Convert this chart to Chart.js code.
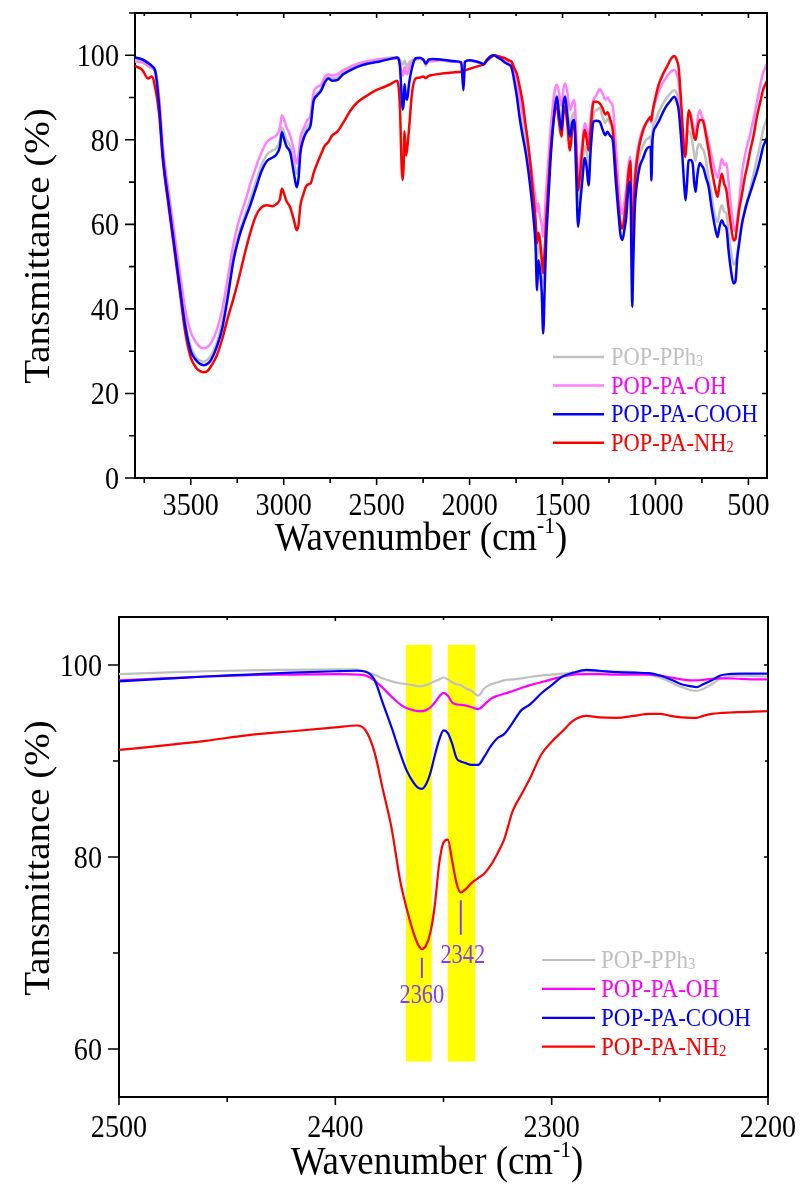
<!DOCTYPE html>
<html>
<head>
<meta charset="utf-8">
<script src="https://cdn.jsdelivr.net/npm/chart.js@4.4.1/dist/chart.umd.min.js"></script>
<style>
  html, body { margin: 0; padding: 0; background: #fff; }
  #wrap { position: relative; width: 802px; height: 1193px; }
  canvas { position: absolute; left: 0; }
  #ftir { top: 0; }
  #co2 { top: 590px; }
</style>
</head>
<body>
<div id="wrap">
  <canvas id="ftir" width="802" height="590"></canvas>
  <canvas id="co2" width="802" height="603"></canvas>
</div>
<script>
const sampleNames = ['POP-PPh3', 'POP-PA-OH', 'POP-PA-COOH', 'POP-PA-NH2'];

// full FT-IR spectra, 3800-400 cm-1
const wnFull = [
  3800, 3760, 3730, 3710, 3690, 3670, 3650, 3620, 3590, 3560,
  3530, 3500, 3470, 3450, 3430, 3410, 3390, 3360, 3330, 3300,
  3270, 3240, 3210, 3180, 3150, 3120, 3090, 3060, 3040, 3020,
  3010, 3000, 2985, 2965, 2945, 2930, 2920, 2910, 2895, 2875,
  2855, 2840, 2820, 2800, 2780, 2760, 2740, 2710, 2680, 2640,
  2600, 2550, 2500, 2460, 2420, 2390, 2375, 2365, 2360, 2355,
  2350, 2342, 2336, 2325, 2310, 2290, 2270, 2250, 2235, 2220,
  2200, 2160, 2120, 2080, 2045, 2033, 2025, 2000, 1970, 1940,
  1925, 1905, 1885, 1870, 1850, 1830, 1810, 1790, 1775, 1760,
  1745, 1730, 1715, 1700, 1685, 1670, 1655, 1645, 1637, 1630,
  1622, 1612, 1604, 1596, 1588, 1578, 1565, 1550, 1538, 1530,
  1520, 1505, 1495, 1486, 1475, 1460, 1448, 1437, 1428, 1416,
  1405, 1395, 1380, 1370, 1360, 1348, 1333, 1318, 1300, 1285,
  1270, 1258, 1245, 1230, 1215, 1200, 1188, 1178, 1168, 1157,
  1145, 1135, 1130, 1125, 1120, 1112, 1100, 1085, 1068, 1050,
  1035, 1026, 1022, 1016, 1000, 983, 960, 938, 920, 899,
  885, 875, 865, 855, 845, 838, 830, 822, 812, 800,
  792, 784, 775, 762, 750, 741, 728, 714, 700, 687,
  676, 666, 655, 643, 630, 618, 607, 595, 580, 570,
  560, 548, 535, 520, 505, 490, 472, 454, 436, 420,
  410, 400
];
const pph3Full = [
  99.0, 98.8, 98.0, 97.2, 96.0, 89.0, 77.0, 66.0, 56.0, 46.0,
  37.0, 31.0, 28.5, 27.8, 27.5, 28.0, 29.0, 32.0, 37.0, 44.0,
  52.5, 58.0, 62.0, 66.0, 70.0, 74.0, 76.5, 77.5, 78.0, 80.0,
  83.0, 82.0, 80.0, 78.5, 75.0, 72.0, 74.0, 78.5, 81.0, 83.0,
  84.5, 89.5, 91.0, 92.0, 94.0, 95.0, 94.5, 94.8, 96.0, 97.0,
  97.8, 98.5, 99.0, 99.3, 99.5, 99.5, 99.0, 98.0, 97.8, 98.0,
  98.7, 98.0, 96.9, 98.3, 98.8, 99.2, 99.3, 99.0, 97.5, 98.9,
  99.0, 99.0, 98.8, 98.6, 98.4, 95.0, 98.5, 98.8, 98.6, 98.2,
  98.0, 99.0, 99.6, 100.0, 99.7, 99.2, 98.8, 98.2, 97.0, 95.0,
  91.0, 86.0, 83.0, 80.0, 75.5, 70.0, 64.0, 59.0, 52.0, 55.0,
  54.0, 50.0, 46.0, 52.0, 60.0, 68.0, 77.0, 85.0, 89.5, 90.5,
  88.0, 84.0, 89.0, 90.5, 88.0, 83.0, 85.5, 86.5, 80.0, 65.0,
  70.0, 73.5, 78.5, 77.0, 73.0, 80.0, 86.0, 87.0, 87.5, 85.5,
  84.0, 85.0, 84.0, 83.0, 75.0, 66.0, 60.5, 59.4, 61.5, 65.0,
  70.5, 72.0, 62.0, 45.0, 55.0, 66.0, 72.0, 76.5, 78.5, 80.0,
  80.5, 80.8, 75.0, 82.0, 84.5, 86.5, 88.5, 90.0, 91.0, 91.7,
  91.0, 89.0, 85.0, 80.0, 77.5, 78.0, 81.0, 82.0, 81.5, 79.0,
  76.5, 75.0, 78.0, 79.0, 78.0, 77.5, 75.0, 71.0, 67.5, 63.5,
  61.5, 60.5, 63.0, 64.5, 63.0, 62.5, 58.0, 54.0, 50.5, 51.0,
  53.0, 57.0, 60.5, 63.5, 66.0, 68.5, 72.0, 75.5, 79.0, 82.5,
  84.0, 85.0
];
const ohFull = [
  98.5, 98.3, 97.5, 97.0, 96.2, 90.0, 78.5, 68.0, 58.5, 49.0,
  40.0, 34.5, 32.0, 31.0, 30.7, 31.0, 32.0, 35.0, 40.0, 47.5,
  55.5, 61.0, 65.0, 69.5, 73.5, 77.0, 79.5, 80.5, 81.0, 83.0,
  85.8, 85.0, 83.0, 81.0, 77.5, 74.4, 76.5, 80.5, 82.5, 84.5,
  86.0, 91.0, 92.5, 93.0, 94.8, 95.5, 95.2, 95.5, 96.5, 97.3,
  98.0, 98.6, 98.9, 99.1, 99.2, 99.2, 98.0, 95.8, 95.2, 95.8,
  97.2, 95.8, 95.5, 97.0, 98.3, 99.0, 99.1, 99.0, 98.3, 98.6,
  98.6, 98.8, 98.6, 98.5, 98.3, 97.0, 98.4, 98.7, 98.5, 98.2,
  98.0, 99.0, 99.6, 100.0, 99.8, 99.5, 99.2, 98.8, 98.5, 97.0,
  94.0, 90.0, 86.0, 83.0, 79.0, 74.0, 69.0, 66.0, 63.0, 65.0,
  62.0, 60.0, 57.0, 62.0, 68.0, 74.0, 82.0, 89.0, 92.5, 93.0,
  91.5, 88.0, 92.0, 93.3, 91.5, 87.0, 88.5, 89.5, 84.0, 70.0,
  75.0, 79.0, 84.0, 82.5, 80.0, 85.5, 89.5, 90.5, 92.0, 91.0,
  89.5, 90.0, 89.0, 88.0, 80.0, 70.0, 64.0, 62.5, 65.0, 68.5,
  74.0, 76.0, 68.0, 52.0, 62.0, 71.0, 76.5, 80.0, 82.5, 84.0,
  85.0, 85.5, 84.0, 86.5, 89.0, 91.5, 93.5, 95.0, 96.0, 96.5,
  95.5, 93.5, 88.0, 82.0, 77.5, 77.0, 83.0, 85.9, 85.5, 84.0,
  82.0, 81.0, 84.5, 87.0, 85.5, 84.7, 82.0, 79.5, 76.5, 74.0,
  72.0, 71.0, 73.0, 75.5, 74.0, 74.5, 70.0, 65.0, 59.5, 58.5,
  61.0, 66.0, 72.0, 76.0, 79.0, 81.5, 85.0, 89.0, 93.0, 96.0,
  97.0, 98.0
];
const coohFull = [
  99.5, 99.0, 98.2, 97.5, 96.0, 88.0, 76.0, 65.5, 55.5, 45.5,
  36.0, 30.0, 27.8, 27.0, 26.7, 27.0, 28.0, 31.0, 35.5, 43.0,
  51.5, 57.0, 61.0, 64.5, 68.5, 72.5, 75.0, 75.8, 76.5, 78.5,
  81.8, 80.5, 78.5, 77.0, 72.0, 68.8, 71.0, 77.0, 80.0, 82.0,
  83.5, 89.0, 90.5, 91.5, 93.5, 94.5, 94.0, 94.2, 95.5, 96.5,
  97.3, 98.0, 98.4, 98.8, 99.2, 99.5, 97.5, 90.0, 87.2, 88.5,
  93.2, 89.8, 89.5, 93.5, 97.0, 99.3, 99.4, 99.0, 98.0, 99.0,
  99.1, 99.0, 98.8, 98.6, 98.3, 91.7, 98.5, 98.8, 98.6, 98.2,
  97.9, 99.0, 99.8, 100.0, 99.5, 99.0, 98.3, 97.8, 97.2, 94.0,
  90.0, 85.0, 81.0, 77.5, 73.0, 67.5, 61.0, 55.0, 44.4, 51.5,
  49.5, 44.0, 34.2, 45.0, 56.0, 64.5, 75.0, 83.5, 88.6, 90.2,
  86.5, 82.3, 88.5, 90.2, 86.0, 80.7, 84.0, 84.7, 74.0, 59.4,
  65.0, 69.7, 75.7, 73.5, 69.2, 78.0, 84.3, 84.5, 84.3, 82.5,
  81.1, 81.9, 81.0, 79.9, 71.0, 63.0, 57.5, 56.3, 58.5, 61.8,
  68.9, 70.0, 55.0, 40.5, 50.0, 63.0, 69.5, 73.6, 75.5, 77.6,
  78.3, 78.3, 70.4, 80.0, 83.0, 84.3, 86.5, 88.2, 89.2, 90.2,
  89.0, 87.0, 82.0, 76.0, 69.0, 65.7, 70.0, 75.1, 75.2, 74.4,
  70.0, 67.7, 71.5, 74.5, 73.8, 73.2, 71.0, 68.9, 64.5, 61.0,
  58.5, 57.0, 59.5, 61.0, 59.8, 59.0, 53.9, 49.5, 46.0, 46.5,
  52.0, 56.0, 60.0, 63.0, 65.5, 67.5, 70.0, 72.5, 75.5, 78.5,
  79.5, 80.5
];
const nh2Full = [
  97.5, 96.5, 94.5, 95.0, 92.0, 86.0, 75.0, 64.5, 54.5, 44.5,
  34.5, 28.5, 26.0, 25.3, 25.0, 25.3, 26.5, 29.0, 33.0, 38.0,
  42.5, 47.5, 53.0, 58.0, 62.0, 64.0, 64.5, 64.3, 64.8, 66.0,
  68.5, 67.5, 65.5, 64.0, 61.0, 58.6, 60.0, 64.5, 67.0, 69.3,
  69.7, 72.0, 74.4, 76.5, 78.5, 79.5, 81.0, 82.0, 84.0, 87.0,
  89.0, 90.5, 91.8, 92.5, 93.3, 94.0, 88.0, 73.0, 70.5, 73.5,
  82.0, 76.3, 77.8, 83.0, 91.0, 94.5, 94.7, 95.0, 94.6, 95.1,
  95.3, 95.6, 95.8, 96.0, 96.1, 96.2, 96.4, 96.8, 97.2, 97.6,
  97.8, 98.8, 99.5, 100.0, 99.8, 99.6, 99.3, 98.8, 98.5, 97.0,
  95.5, 92.5, 89.0, 84.0, 79.0, 73.0, 66.0, 61.0, 55.5, 58.0,
  56.5, 52.0, 48.5, 54.0, 61.0, 68.0, 77.0, 84.0, 87.5, 87.8,
  84.5, 80.7, 86.0, 87.8, 84.0, 77.5, 82.0, 84.2, 79.0, 68.0,
  72.0, 77.0, 82.3, 80.0, 77.5, 83.0, 89.0, 89.0, 88.6, 87.5,
  86.0, 86.5, 85.0, 82.3, 74.0, 65.0, 60.0, 59.0, 61.5, 66.0,
  72.0, 75.0, 64.0, 48.4, 58.0, 69.0, 75.0, 79.0, 82.0, 84.0,
  85.0, 85.4, 84.5, 86.5, 90.0, 93.0, 95.5, 97.3, 98.9, 99.8,
  98.8, 97.0, 91.0, 84.0, 77.0, 76.0, 82.0, 87.0, 85.9, 82.5,
  80.7, 80.0, 82.5, 84.7, 84.7, 84.0, 81.0, 77.5, 73.5, 70.4,
  68.0, 66.5, 69.5, 72.0, 69.5, 68.0, 64.0, 60.0, 56.2, 56.5,
  60.0, 64.0, 67.0, 71.0, 74.0, 77.5, 81.0, 85.5, 89.0, 92.0,
  93.0, 94.0
];

// CO2 region, 2500-2200 cm-1
const wnCO2 = [
  2500, 2480, 2460, 2440, 2420, 2400, 2390, 2386, 2382, 2378,
  2374, 2370, 2367, 2364, 2362, 2360, 2358, 2356, 2354, 2352,
  2350, 2348, 2346, 2344, 2342, 2340, 2337, 2334, 2331, 2328,
  2325, 2322, 2318, 2314, 2310, 2305, 2300, 2295, 2290, 2284,
  2278, 2270, 2262, 2255, 2250, 2245, 2240, 2236, 2233, 2230,
  2226, 2222, 2218, 2212, 2206, 2200
];
const pph3CO2 = [
  99.05, 99.2, 99.35, 99.45, 99.5, 99.55, 99.55, 99.3, 99.0, 98.6,
  98.3, 98.1, 98.0, 97.9, 97.8, 97.8, 97.9, 98.1, 98.3, 98.5,
  98.7, 98.5, 98.2, 98.0, 97.9, 97.6, 97.3, 96.8, 97.6, 98.0,
  98.2, 98.4, 98.5, 98.6, 98.75, 98.9, 99.0, 99.1, 99.2, 99.35,
  99.3, 99.3, 99.25, 99.0, 98.7, 98.2, 97.7, 97.4, 97.3, 97.5,
  98.0, 98.6, 98.8, 98.9, 98.85, 98.8
];
const ohCO2 = [
  98.4, 98.6, 98.8, 98.95, 99.0, 99.05, 99.0, 98.9, 98.4, 97.6,
  96.7, 95.9, 95.5, 95.3, 95.2, 95.2, 95.3, 95.6, 96.1, 96.7,
  97.1, 96.8, 96.1, 95.9, 95.85, 95.8, 95.6, 95.4, 95.9, 96.5,
  96.8, 97.0, 97.3, 97.6, 97.9, 98.2, 98.5, 98.8, 99.0, 99.05,
  99.05, 99.0, 99.0, 99.0, 98.9, 98.7, 98.5, 98.4, 98.4, 98.45,
  98.55, 98.6, 98.6, 98.55, 98.5, 98.5
];
const coohCO2 = [
  98.3, 98.55, 98.8, 99.0, 99.2, 99.35, 99.4, 99.3, 98.5, 96.0,
  93.5, 90.8, 89.0, 87.8, 87.25, 87.1, 87.6, 88.8, 90.6, 92.2,
  93.2, 92.9, 91.8, 90.3, 89.95, 89.8, 89.6, 89.6, 90.5, 91.6,
  92.4, 92.8, 94.0, 95.3, 95.9, 97.0, 97.9, 98.8, 99.2, 99.5,
  99.4, 99.25, 99.2, 99.15, 98.9, 98.5, 98.0, 97.8, 97.7, 98.0,
  98.4, 98.9, 99.05, 99.1, 99.1, 99.1
];
const nh2CO2 = [
  91.15, 91.6, 92.1, 92.7, 93.1, 93.5, 93.7, 93.2, 91.0, 87.0,
  83.0, 77.5, 74.6, 72.2, 71.0, 70.4, 70.8, 72.2, 75.0, 79.3,
  81.5, 81.8, 79.6, 77.3, 76.3, 76.6, 77.3, 77.8, 78.3, 79.2,
  80.4, 81.8, 84.8, 86.5, 88.2, 90.6, 92.0, 93.1, 94.2, 94.7,
  94.55, 94.5, 94.7, 94.9, 94.9, 94.7, 94.55, 94.5, 94.5, 94.7,
  94.9, 95.0, 95.05, 95.1, 95.15, 95.2
];

// axis ticks (every tick gets a mark, only the listed ones get a number)
const xTicksFull = [3750, 3500, 3250, 3000, 2750, 2500, 2250, 2000, 1750, 1500, 1250, 1000, 750, 500];
const xLabelsFull = [3500, 3000, 2500, 2000, 1500, 1000, 500];
const yTicksFull = [0, 10, 20, 30, 40, 50, 60, 70, 80, 90, 100, 110];
const yLabelsFull = [0, 20, 40, 60, 80, 100];
const xTicksCO2 = [2500, 2450, 2400, 2350, 2300, 2250, 2200];
const xLabelsCO2 = [2500, 2400, 2300, 2200];
const yTicksCO2 = [60, 70, 80, 90, 100];
const yLabelsCO2 = [60, 80, 100];

// CO2 bands that get highlighted, and the two labelled peaks
const co2Bands = [[2367.4, 2355.4], [2348, 2335.3]];
const co2Peaks = [2360, 2342];

const SERIF = '"Liberation Serif", "Times New Roman", serif';
const font = size => size + 'px ' + SERIF;

// draws a row of text pieces on one baseline, squeezed horizontally by sx
function drawRuns(ctx, runs, x, y, sx, align) {
  let w = 0;
  runs.forEach(r => { ctx.font = font(r.size); r.w = ctx.measureText(r.text).width; w += r.w; });
  let cx = align === 'center' ? -w / 2 : align === 'right' ? -w : 0;
  ctx.save();
  ctx.translate(x, y);
  ctx.scale(sx, 1);
  ctx.textAlign = 'left';
  ctx.textBaseline = 'alphabetic';
  runs.forEach(r => {
    ctx.font = font(r.size);
    ctx.fillText(r.text, cx, r.dy || 0);
    cx += r.w;
  });
  ctx.restore();
}

// trailing digit of a sample name is set as a subscript
function nameRuns(name, size) {
  const m = name.match(/^(.*?)(\d)$/);
  if (!m) return [{ text: name, size }];
  return [{ text: m[1], size }, { text: m[2], size: Math.round(size * 0.64), dy: 1 }];
}

function decor(cfg) {
  return {
    id: 'decor',
    beforeDatasetsDraw(chart) {
      if (!cfg.bands) return;
      const { ctx, scales: { x, y } } = chart;
      ctx.save();
      ctx.fillStyle = '#ffff00';
      cfg.bands.forEach(([a, b]) => {
        const x0 = x.getPixelForValue(a), x1 = x.getPixelForValue(b);
        const y0 = y.getPixelForValue(cfg.bandSpan[1]), y1 = y.getPixelForValue(cfg.bandSpan[0]);
        ctx.fillRect(x0, y0, x1 - x0, y1 - y0);
      });
      ctx.restore();
    },
    afterDraw(chart) {
      const { ctx, chartArea: a, scales: { x, y } } = chart;
      ctx.save();
      ctx.strokeStyle = '#000';
      ctx.lineCap = 'square';
      ctx.lineWidth = 2;
      ctx.beginPath();
      ctx.moveTo(a.left, a.top);
      ctx.lineTo(a.right, a.top);
      ctx.lineTo(a.right, a.bottom);
      ctx.stroke();

      // tick marks: outward on bottom/left, short inward on top/right
      ctx.lineCap = 'butt';
      ctx.lineWidth = 1.6;
      ctx.beginPath();
      x.ticks.forEach(t => {
        const px = x.getPixelForValue(t.value);
        const major = cfg.xLabels.includes(t.value);
        ctx.moveTo(px, a.bottom);
        ctx.lineTo(px, a.bottom + (major ? cfg.xOut[0] : cfg.xOut[1]));
        ctx.moveTo(px, a.top);
        ctx.lineTo(px, a.top + (major ? cfg.inLen[0] : cfg.inLen[1]));
      });
      y.ticks.forEach(t => {
        const py = y.getPixelForValue(t.value);
        const major = cfg.yLabels.includes(t.value);
        ctx.moveTo(a.left, py);
        ctx.lineTo(a.left - (major ? cfg.yOut[0] : cfg.yOut[1]), py);
        ctx.moveTo(a.right, py);
        ctx.lineTo(a.right - (major ? cfg.inLen[0] : cfg.inLen[1]), py);
      });
      ctx.stroke();

      // tick numbers
      ctx.fillStyle = '#000';
      const ts = cfg.tickSize;
      cfg.xLabels.forEach(v => {
        drawRuns(ctx, [{ text: String(v), size: ts }], x.getPixelForValue(v), a.bottom + cfg.xLabelDrop, cfg.sx, 'center');
      });
      cfg.yLabels.forEach(v => {
        drawRuns(ctx, [{ text: String(v), size: ts }], a.left - cfg.yLabelGap, y.getPixelForValue(v) + ts * 0.34, cfg.sx, 'right');
      });

      // axis titles
      drawRuns(ctx, [
        { text: 'Wavenumber (cm', size: 41 },
        { text: '-1', size: 24, dy: -17 },
        { text: ')', size: 41 }
      ], cfg.xTitle[0], cfg.xTitle[1], 0.9, 'center');
      ctx.save();
      ctx.translate(cfg.yTitle[0], cfg.yTitle[1]);
      ctx.rotate(-Math.PI / 2);
      ctx.scale(1, 0.9);
      ctx.font = font(39);
      ctx.textAlign = 'center';
      ctx.textBaseline = 'middle';
      ctx.fillText('Tansmittance (%)', 0, 0);
      ctx.restore();

      // legend
      const L = cfg.legend;
      chart.data.datasets.forEach((ds, i) => {
        const ly = L.y + i * L.gap;
        ctx.strokeStyle = ds.borderColor;
        ctx.lineWidth = ds.borderWidth;
        ctx.beginPath();
        ctx.moveTo(L.x, ly);
        ctx.lineTo(L.x + L.len, ly);
        ctx.stroke();
        ctx.fillStyle = ds.labelColor;
        drawRuns(ctx, nameRuns(ds.label, L.size), L.x + L.len + L.pad, ly + L.size * 0.33, L.sx, 'left');
      });

      // peak markers with their wavenumbers
      (cfg.peaks || []).forEach(p => {
        const px = x.getPixelForValue(p.wn);
        ctx.strokeStyle = '#7f3fff';
        ctx.lineWidth = 2;
        ctx.beginPath();
        ctx.moveTo(px, y.getPixelForValue(p.from));
        ctx.lineTo(px, y.getPixelForValue(p.to));
        ctx.stroke();
        ctx.fillStyle = '#7f3fff';
        drawRuns(ctx, [{ text: String(p.wn), size: 27 }], px + (p.dx || 0), y.getPixelForValue(p.textAt) + 27 * 0.34, 0.83, 'center');
      });
      ctx.restore();
    }
  };
}

function spectrum(label, wn, values, color, labelColor, width, order) {
  return {
    label,
    data: wn.map((w, i) => ({ x: w, y: values[i] })),
    borderColor: color,
    labelColor,
    borderWidth: width,
    order,
    pointRadius: 0,
    fill: false,
    cubicInterpolationMode: 'monotone'
  };
}

function axes(xMin, xMax, xTicks, yMin, yMax, yTicks) {
  const common = {
    grid: { display: false, drawTicks: false },
    ticks: { display: false },
    border: { display: true, color: '#000', width: 2 }
  };
  return {
    x: {
      type: 'linear', reverse: true, min: xMin, max: xMax, ...common,
      afterBuildTicks: s => { s.ticks = xTicks.map(v => ({ value: v })); }
    },
    y: {
      type: 'linear', min: yMin, max: yMax, ...common,
      afterBuildTicks: s => { s.ticks = yTicks.map(v => ({ value: v })); }
    }
  };
}

const baseOptions = {
  responsive: false,
  animation: false,
  devicePixelRatio: 1,
  events: [],
  plugins: { legend: { display: false }, tooltip: { enabled: false } }
};

new Chart(document.getElementById('ftir'), {
  type: 'line',
  data: {
    datasets: [
      spectrum(sampleNames[0], wnFull, pph3Full, '#c0c0c0', '#c0c0c0', 2.5, 3),
      spectrum(sampleNames[1], wnFull, ohFull, '#ff80ff', '#ff00ff', 2.5, 2),
      spectrum(sampleNames[2], wnFull, coohFull, '#0000ff', '#0000ff', 2.5, 0),
      spectrum(sampleNames[3], wnFull, nh2Full, '#ff0000', '#ff0000', 2.5, 1)
    ]
  },
  options: {
    ...baseOptions,
    layout: { padding: { left: 135, top: 13, right: 35, bottom: 112 } },
    scales: axes(400, 3800, xTicksFull, 0, 110, yTicksFull)
  },
  plugins: [decor({
    xLabels: xLabelsFull, yLabels: yLabelsFull,
    xOut: [7, 5], yOut: [10, 6], inLen: [5, 3],
    tickSize: 32, sx: 0.88, xLabelDrop: 37, yLabelGap: 16,
    xTitle: [421, 550], yTitle: [40, 246],
    legend: { x: 553, y: 357, gap: 28.6, len: 51, pad: 7, size: 25, sx: 0.9 }
  })]
});

new Chart(document.getElementById('co2'), {
  type: 'line',
  data: {
    datasets: [
      spectrum(sampleNames[0], wnCO2, pph3CO2, '#c0c0c0', '#c0c0c0', 2.2, 3),
      spectrum(sampleNames[1], wnCO2, ohCO2, '#ff00ff', '#ff00ff', 2.2, 2),
      spectrum(sampleNames[2], wnCO2, coohCO2, '#0000ff', '#0000ff', 2.2, 0),
      spectrum(sampleNames[3], wnCO2, nh2CO2, '#ff0000', '#ff0000', 2.2, 1)
    ]
  },
  options: {
    ...baseOptions,
    layout: { padding: { left: 119, top: 27, right: 34, bottom: 96 } },
    scales: axes(2200, 2500, xTicksCO2, 55, 105, yTicksCO2)
  },
  plugins: [decor({
    xLabels: xLabelsCO2, yLabels: yLabelsCO2,
    xOut: [8, 5], yOut: [11, 6], inLen: [4, 3],
    tickSize: 32, sx: 0.88, xLabelDrop: 40, yLabelGap: 17,
    xTitle: [437, 584], yTitle: [40, 268],
    legend: { x: 542, y: 370, gap: 28.9, len: 53, pad: 6, size: 25, sx: 0.92 },
    bands: co2Bands, bandSpan: [58.7, 102.1],
    peaks: [
      { wn: co2Peaks[0], from: 69.5, to: 67.4, textAt: 65.8 },
      { wn: co2Peaks[1], from: 75.5, to: 71.9, textAt: 69.9, dx: 2 }
    ]
  })]
});
</script>
</body>
</html>
